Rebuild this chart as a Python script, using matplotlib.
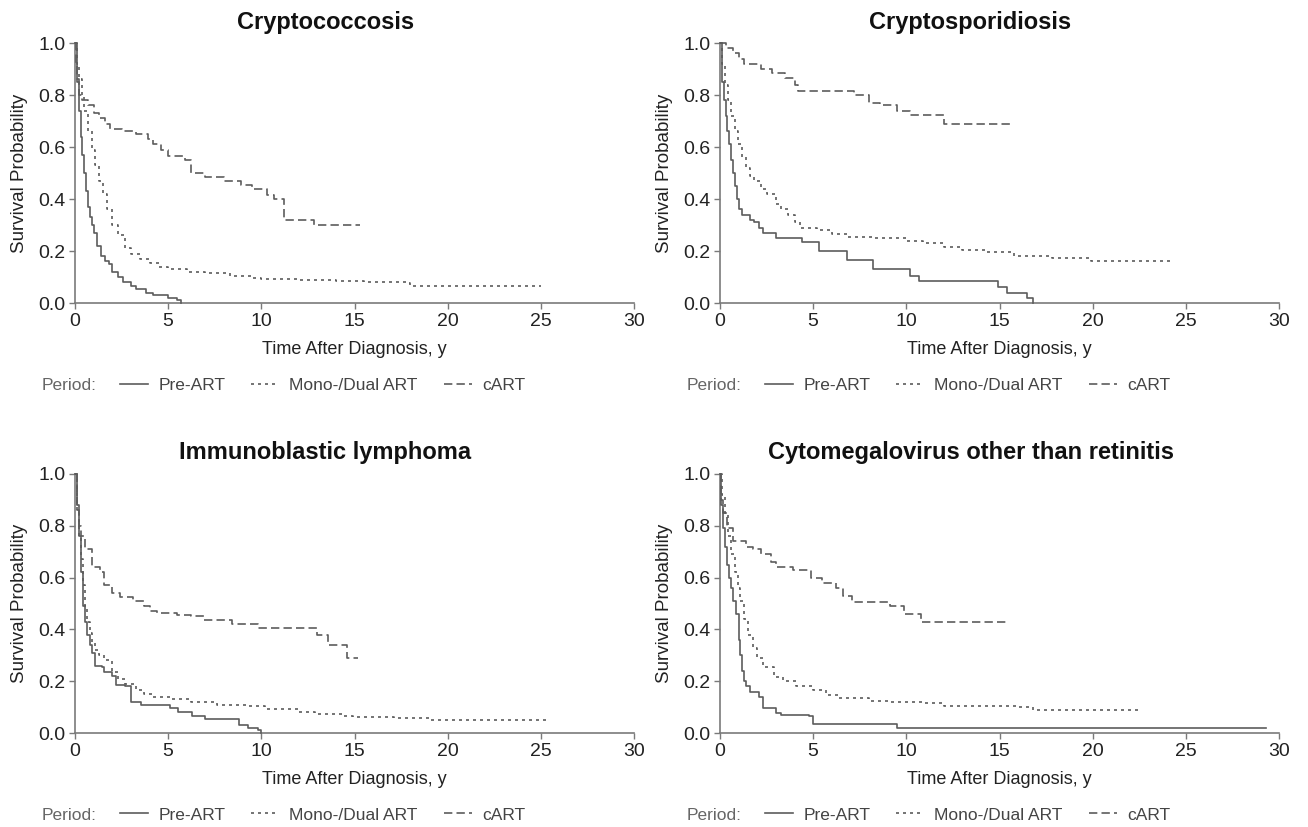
import numpy as np
import matplotlib
matplotlib.use("Agg")
import matplotlib.pyplot as plt
from matplotlib.lines import Line2D

plt.rcParams['font.family'] = ['Liberation Sans', 'DejaVu Sans']

# ---- data (time in years, survival) ----
titles = ['Cryptococcosis', 'Cryptosporidiosis',
          'Immunoblastic lymphoma', 'Cytomegalovirus other than retinitis']
periods = ['Pre-ART', 'Mono-/Dual ART', 'cART']

# Cryptococcosis
crypto_pre_t = [0, 0.1, 0.2, 0.3, 0.4, 0.5, 0.6, 0.7, 0.8, 0.9, 1.0, 1.2, 1.4, 1.6, 1.8,
                2.0, 2.3, 2.6, 3.0, 3.3, 3.8, 4.2, 5.0, 5.5, 5.7]
crypto_pre_s = [1.0, 0.86, 0.74, 0.64, 0.57, 0.50, 0.43, 0.37, 0.33, 0.30, 0.27, 0.22, 0.18,
                0.16, 0.15, 0.12, 0.10, 0.08, 0.065, 0.055, 0.04, 0.03, 0.02, 0.01, 0.0]
crypto_mono_t = [0, 0.1, 0.2, 0.35, 0.5, 0.7, 0.9, 1.1, 1.3, 1.5, 1.7, 2.0, 2.3, 2.7, 3.0,
                 3.5, 4.0, 4.5, 5.0, 6.0, 7.0, 8.3, 9.5, 10.0, 12.0, 14.0, 15.5, 17.8, 18.0, 25.0]
crypto_mono_s = [1.0, 0.92, 0.86, 0.80, 0.74, 0.66, 0.59, 0.53, 0.47, 0.42, 0.36, 0.30, 0.26,
                 0.21, 0.19, 0.17, 0.155, 0.14, 0.13, 0.12, 0.115, 0.105, 0.097, 0.092, 0.09,
                 0.085, 0.08, 0.078, 0.066, 0.066]
crypto_cart_t = [0, 0.05, 0.1, 0.2, 0.4, 0.7, 1.0, 1.3, 1.6, 1.9, 2.5, 3.3, 3.9, 4.2, 4.6,
                 5.0, 5.9, 6.2, 7.0, 8.0, 8.9, 9.5, 10.3, 10.7, 11.2, 12.8, 15.3]
crypto_cart_s = [1.0, 0.92, 0.85, 0.80, 0.78, 0.76, 0.73, 0.71, 0.69, 0.67, 0.66, 0.65, 0.63,
                 0.61, 0.59, 0.565, 0.55, 0.50, 0.485, 0.47, 0.455, 0.44, 0.415, 0.40, 0.32,
                 0.30, 0.30]

# Cryptosporidiosis
cspor_pre_t = [0, 0.1, 0.2, 0.3, 0.4, 0.5, 0.6, 0.7, 0.8, 0.9, 1.0, 1.2, 1.6, 1.8, 2.1, 2.3,
               3.0, 4.4, 5.3, 6.8, 8.2, 10.2, 10.7, 14.9, 15.4, 16.5, 16.8]
cspor_pre_s = [1.0, 0.85, 0.78, 0.72, 0.66, 0.61, 0.55, 0.50, 0.45, 0.40, 0.36, 0.34, 0.32,
               0.31, 0.29, 0.27, 0.25, 0.235, 0.20, 0.165, 0.13, 0.105, 0.085, 0.06, 0.04,
               0.02, 0.0]
cspor_mono_t = [0, 0.1, 0.27, 0.45, 0.6, 0.8, 0.95, 1.2, 1.4, 1.6, 1.85, 2.2, 2.5, 3.0, 3.3,
                3.65, 4.0, 4.3, 5.2, 6.0, 6.8, 8.2, 10.0, 10.9, 12.0, 13.0, 14.2, 15.8, 17.8,
                19.9, 24.2]
cspor_mono_s = [1.0, 0.92, 0.84, 0.78, 0.72, 0.66, 0.61, 0.56, 0.52, 0.49, 0.47, 0.44, 0.42,
                0.38, 0.36, 0.34, 0.31, 0.29, 0.28, 0.265, 0.255, 0.25, 0.24, 0.23, 0.215,
                0.205, 0.195, 0.18, 0.175, 0.16, 0.16]
cspor_cart_t = [0, 0.3, 0.7, 1.0, 1.3, 2.2, 2.8, 3.5, 4.0, 4.2, 7.2, 8.0, 8.6, 9.5, 10.2,
                12.0, 15.6]
cspor_cart_s = [1.0, 0.98, 0.96, 0.94, 0.92, 0.90, 0.885, 0.865, 0.84, 0.815, 0.80, 0.77,
                0.76, 0.74, 0.725, 0.69, 0.69]

# Immunoblastic lymphoma
immu_pre_t = [0, 0.1, 0.2, 0.3, 0.44, 0.55, 0.67, 0.8, 0.9, 1.1, 1.44, 1.55, 2.0, 2.2, 2.67,
              3.0, 3.55, 5.1, 5.55, 6.3, 7.0, 8.8, 9.3, 9.8, 10.0]
immu_pre_s = [1.0, 0.88, 0.76, 0.62, 0.49, 0.43, 0.38, 0.34, 0.31, 0.26, 0.255, 0.237, 0.22,
              0.185, 0.18, 0.12, 0.11, 0.096, 0.083, 0.067, 0.055, 0.032, 0.02, 0.01, 0.0]
immu_mono_t = [0, 0.1, 0.2, 0.33, 0.45, 0.55, 0.67, 0.78, 0.9, 1.1, 1.3, 1.55, 2.0, 2.3,
               2.67, 3.3, 3.7, 4.2, 5.1, 6.2, 7.6, 9.3, 10.2, 12.0, 12.9, 14.4, 14.9, 17.1,
               19.1, 25.3]
immu_mono_s = [1.0, 0.85, 0.76, 0.67, 0.57, 0.49, 0.43, 0.385, 0.35, 0.32, 0.30, 0.28, 0.237,
               0.21, 0.19, 0.167, 0.15, 0.14, 0.13, 0.118, 0.11, 0.105, 0.092, 0.083, 0.074,
               0.067, 0.06, 0.056, 0.051, 0.051]
immu_cart_t = [0, 0.1, 0.2, 0.33, 0.55, 0.9, 1.33, 1.55, 2.0, 2.4, 3.1, 3.7, 4.0, 4.4, 5.5,
               6.2, 6.9, 8.4, 9.8, 13.0, 13.6, 14.6, 15.2]
immu_cart_s = [1.0, 0.86, 0.80, 0.76, 0.71, 0.64, 0.62, 0.57, 0.54, 0.525, 0.51, 0.49, 0.47,
               0.465, 0.455, 0.45, 0.435, 0.42, 0.405, 0.38, 0.34, 0.29, 0.29]

# Cytomegalovirus other than retinitis
cmv_pre_t = [0, 0.08, 0.16, 0.27, 0.38, 0.5, 0.6, 0.72, 0.84, 1.0, 1.1, 1.2, 1.3, 1.4, 1.6,
             2.1, 2.3, 3.0, 3.3, 4.8, 5.0, 9.5, 29.3]
cmv_pre_s = [1.0, 0.88, 0.79, 0.72, 0.65, 0.60, 0.56, 0.51, 0.46, 0.36, 0.30, 0.24, 0.20,
             0.18, 0.16, 0.14, 0.096, 0.077, 0.07, 0.064, 0.036, 0.02, 0.02]
cmv_mono_t = [0, 0.1, 0.27, 0.45, 0.6, 0.8, 0.95, 1.1, 1.3, 1.5, 1.75, 2.0, 2.3, 2.9, 3.4,
              4.1, 5.0, 5.7, 6.4, 8.0, 9.1, 10.9, 12.0, 15.9, 16.8, 22.6]
cmv_mono_s = [1.0, 0.92, 0.85, 0.76, 0.69, 0.62, 0.56, 0.51, 0.44, 0.38, 0.33, 0.29, 0.256,
              0.218, 0.20, 0.18, 0.167, 0.147, 0.137, 0.125, 0.118, 0.115, 0.103, 0.10,
              0.087, 0.087]
cmv_cart_t = [0, 0.08, 0.16, 0.38, 0.72, 1.4, 1.75, 2.2, 2.75, 3.0, 3.9, 4.9, 5.5, 6.2, 6.6,
              7.1, 9.1, 9.9, 10.8, 15.5]
cmv_cart_s = [1.0, 0.9, 0.85, 0.79, 0.74, 0.72, 0.71, 0.69, 0.66, 0.64, 0.63, 0.60, 0.58,
              0.56, 0.53, 0.505, 0.49, 0.46, 0.43, 0.43]

curves = [
    [(crypto_pre_t, crypto_pre_s), (crypto_mono_t, crypto_mono_s), (crypto_cart_t, crypto_cart_s)],
    [(cspor_pre_t, cspor_pre_s), (cspor_mono_t, cspor_mono_s), (cspor_cart_t, cspor_cart_s)],
    [(immu_pre_t, immu_pre_s), (immu_mono_t, immu_mono_s), (immu_cart_t, immu_cart_s)],
    [(cmv_pre_t, cmv_pre_s), (cmv_mono_t, cmv_mono_s), (cmv_cart_t, cmv_cart_s)],
]

line_col = '#5c5c5c'
axis_col = '#7a7a7a'
styles = ['-', (0, (1.8, 2.4)), (0, (5, 2.5))]

W, H = 1308, 827
fig = plt.figure(figsize=(W / 100, H / 100), dpi=100)

# panel boxes in pixels: left, top, right, bottom
boxes = [(75, 43, 634, 303), (720, 43, 1279, 303),
         (75, 474, 634, 733), (720, 474, 1279, 733)]

for i, (l, t, r, b) in enumerate(boxes):
    ax = fig.add_axes([l / W, 1 - b / H, (r - l) / W, (b - t) / H])
    for (tt, ss), ls in zip(curves[i], styles):
        ax.plot(tt, ss, drawstyle='steps-post', color=line_col, lw=1.2,
                linestyle=ls, clip_on=False, zorder=3)
    ax.set_xlim(0, 30)
    ax.set_ylim(0, 1)
    ax.set_xticks(np.arange(0, 31, 5))
    ax.set_yticks(np.arange(0, 1.01, 0.2))
    ax.set_yticklabels([f'{v:.1f}' for v in np.arange(0, 1.01, 0.2)])
    for side in ['top', 'right']:
        ax.spines[side].set_visible(False)
    for side in ['left', 'bottom']:
        ax.spines[side].set_color(axis_col)
        ax.spines[side].set_linewidth(1.2)
    ax.tick_params(colors=axis_col, labelcolor='#222222', labelsize=14,
                   length=4, width=1.0, pad=3)
    ax.set_xlabel('Time After Diagnosis, y', fontsize=13, color='#222222', labelpad=8)
    ax.set_ylabel('Survival Probability', fontsize=13.5, color='#222222', labelpad=7)

    # title, centred on the whole cell
    fig.text(((l + r) / 2 - 29) / W, 1 - (t - 21) / H, titles[i], fontsize=17,
             fontweight='bold', ha='center', va='center', color='#111111')

    # legend row
    ly = 1 - (b + 82) / H
    fig.text((l - 33) / W, ly, 'Period:', fontsize=12.5, color='#666666',
             ha='left', va='center')
    handles = [Line2D([], [], color=line_col, lw=1.2, linestyle=ls) for ls in styles]
    fig.legend(handles, periods, loc='center left',
               bbox_to_anchor=((l + 45) / W, ly), frameon=False, ncol=3,
               fontsize=12.5, handlelength=1.6, handletextpad=0.6,
               columnspacing=1.5, borderpad=0, borderaxespad=0,
               labelcolor='#444444')

fig.savefig('out.png', dpi=100)
